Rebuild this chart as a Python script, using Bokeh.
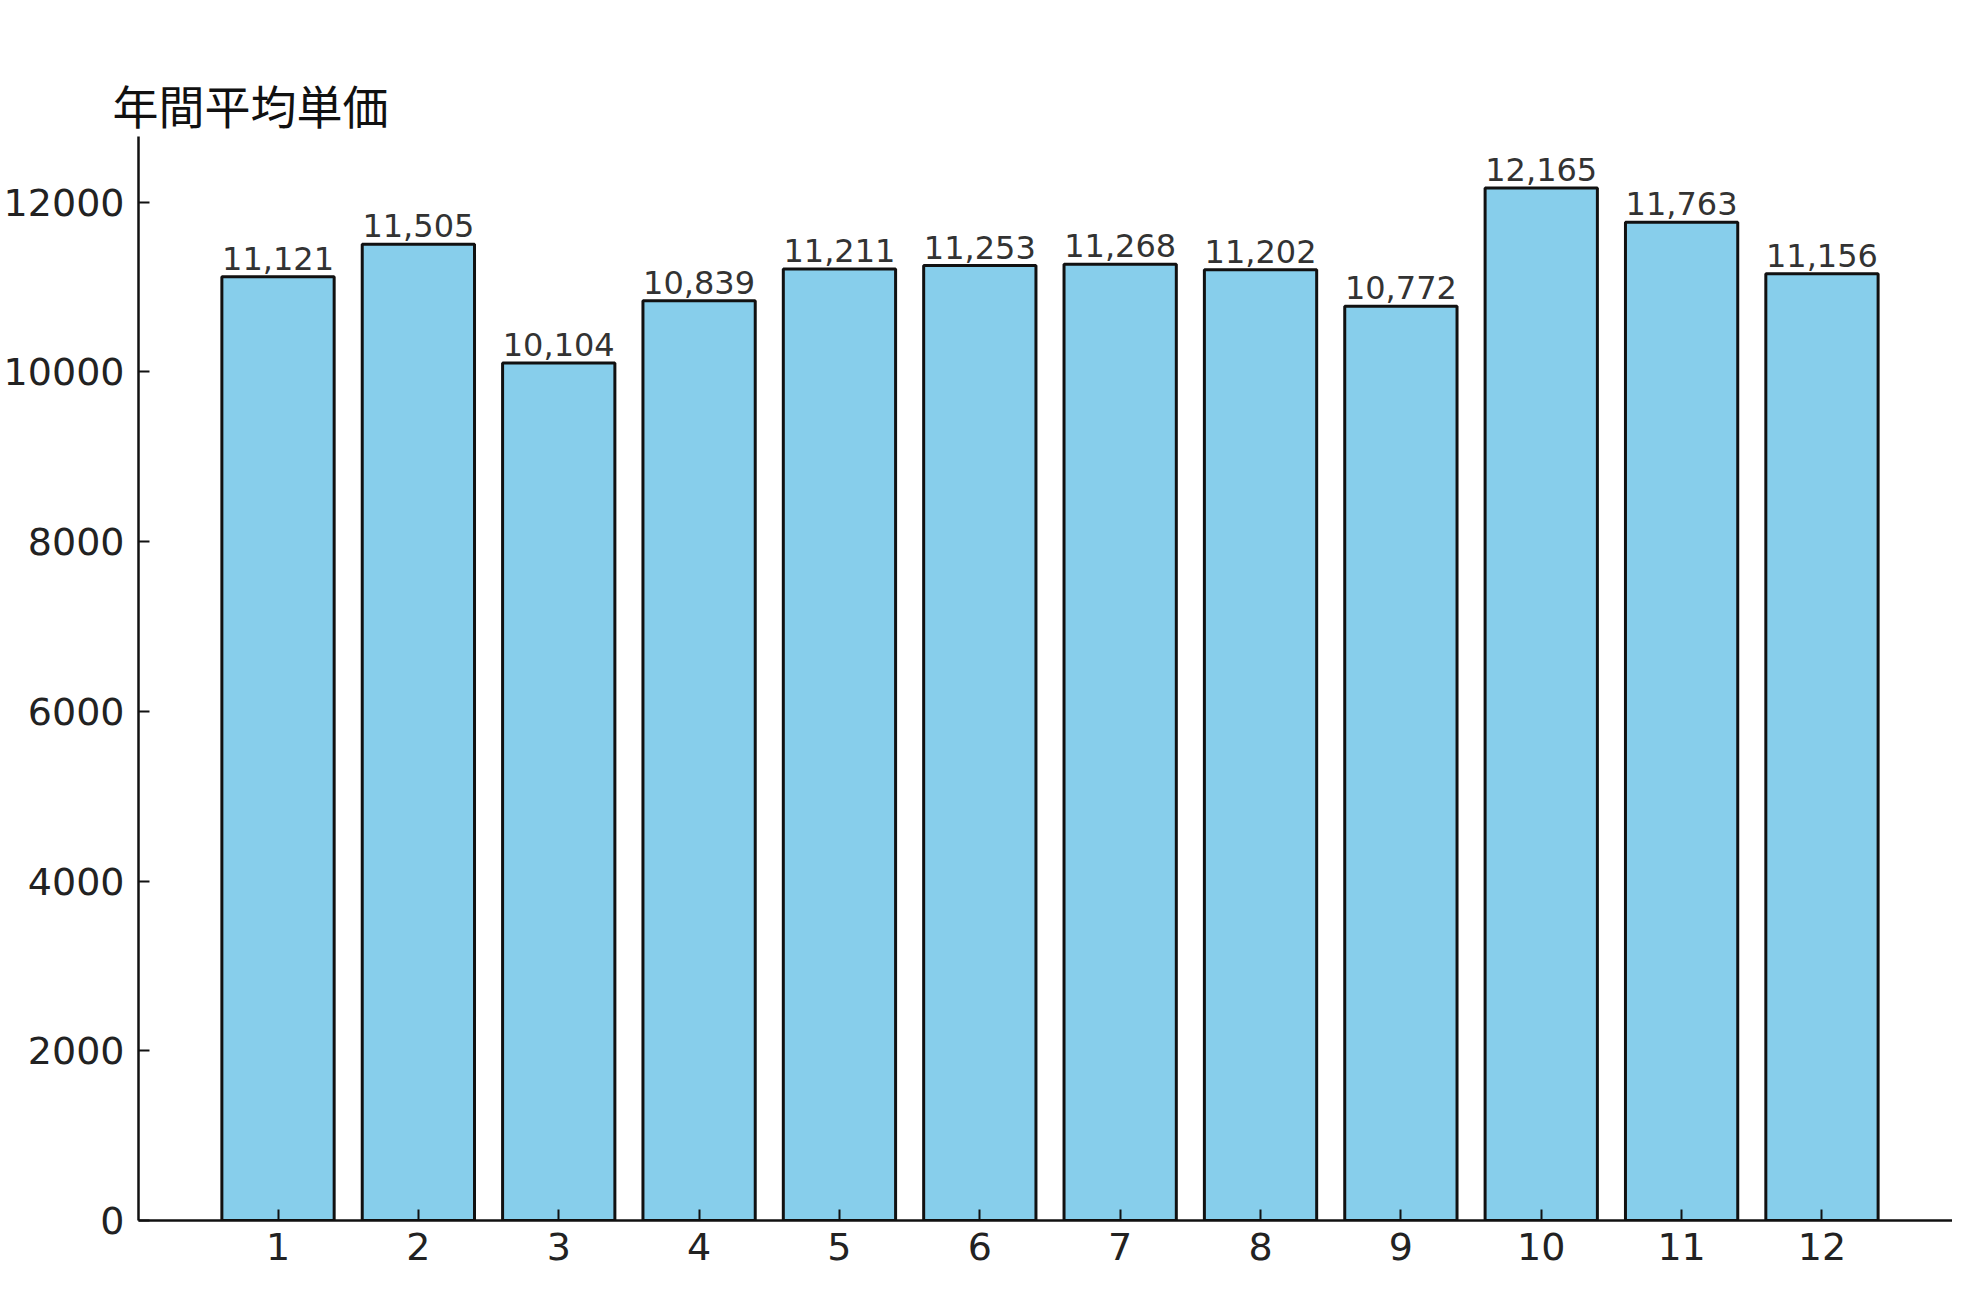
from bokeh.plotting import figure
from bokeh.models import ColumnDataSource, FixedTicker, Range1d
from bokeh.core.properties import value
from bokeh.embed import file_html
from bokeh.resources import INLINE

# 月ごとの年間平均単価
months = [1, 2, 3, 4, 5, 6, 7, 8, 9, 10, 11, 12]
prices = [11121, 11505, 10104, 10839, 11211, 11253, 11268, 11202, 10772, 12165, 11763, 11156]
y_ticks = [0, 2000, 4000, 6000, 8000, 10000, 12000]
title_text = "年間平均単価"

source = ColumnDataSource(data=dict(
    month=months,
    price=prices,
    label=[f"{v:,}" for v in prices],
))

p = figure(width=1952, height=1296, output_backend="svg", toolbar_location=None,
           x_range=Range1d(0.006, 12.93), y_range=Range1d(0, max(prices) * 1.05),
           min_border_left=135, min_border_right=0, min_border_top=136, min_border_bottom=76)

p.title.text = title_text
p.title.align = "left"
p.title.offset = -26
p.title.text_font = "Noto Sans CJK JP"
p.title.text_font_size = "46px"
p.title.text_font_style = "normal"
p.title.text_color = "#111111"
p.title.standoff = 0

p.vbar(x="month", top="price", width=0.8, source=source,
       fill_color="#87CEEB", line_color="#111111", line_width=3)

p.text(x="month", y="price", text="label", source=source,
       text_align="center", text_baseline="bottom", y_offset=-7,
       text_font=value("DejaVu Sans"), text_font_size="32px", text_color="#333333")

p.xgrid.visible = False
p.ygrid.visible = False
p.outline_line_color = None

for ax in (p.xaxis, p.yaxis):
    ax.axis_line_color = "#111111"
    ax.axis_line_width = 2.5
    ax.major_tick_line_color = "#111111"
    ax.major_tick_line_width = 2
    ax.major_tick_in = 11
    ax.major_tick_out = 0
    ax.minor_tick_line_color = None
    ax.major_label_text_font = "DejaVu Sans"
    ax.major_label_text_font_size = "38px"
    ax.major_label_text_color = "#222222"

p.xaxis.ticker = FixedTicker(ticks=months)
p.yaxis.ticker = FixedTicker(ticks=y_ticks)
p.xaxis.major_label_standoff = 12
p.yaxis.major_label_standoff = 14

open("out.html", "w").write(file_html(p, INLINE))
